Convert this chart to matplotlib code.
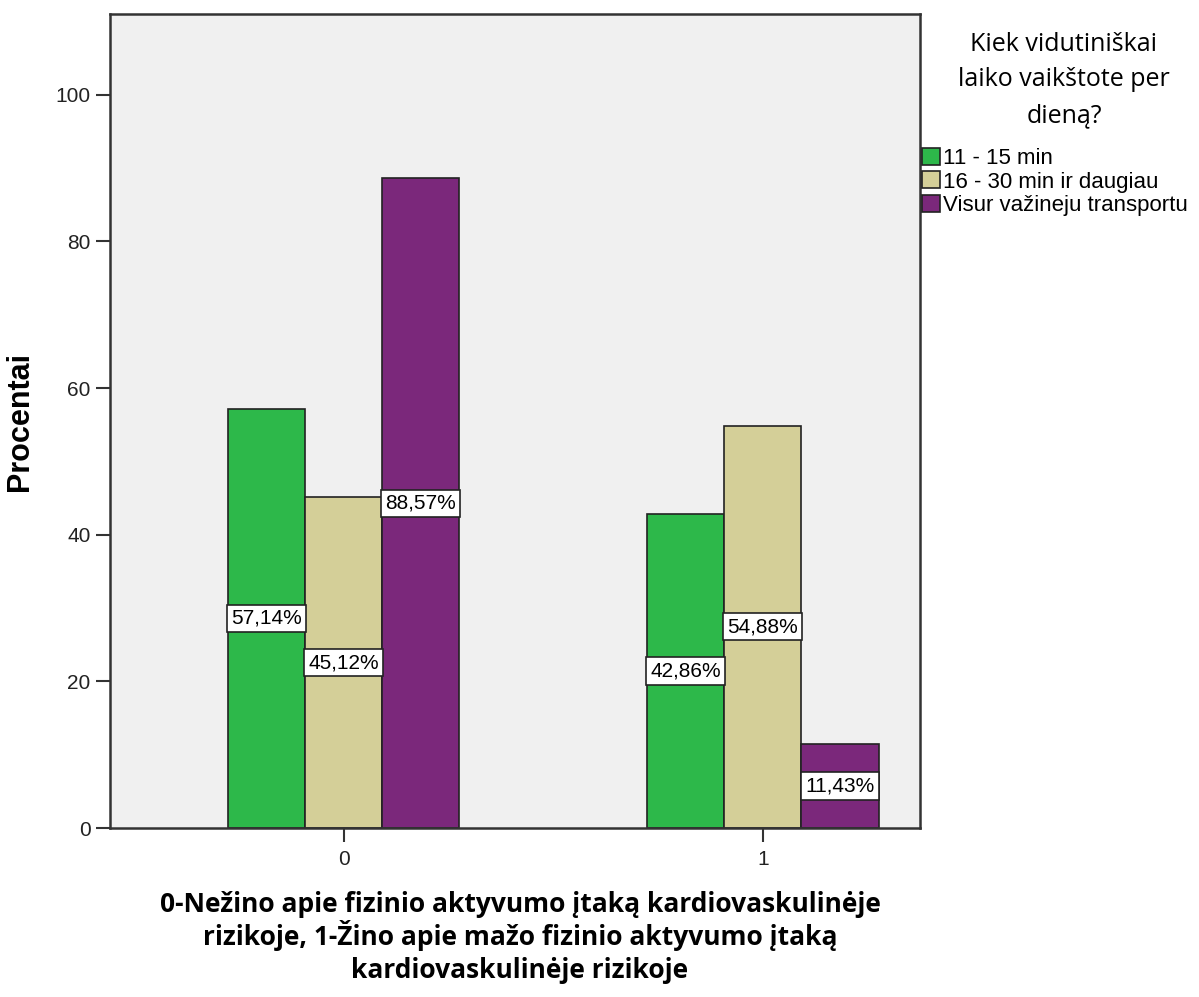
import numpy as np
import matplotlib.pyplot as plt

# Percentages per awareness group (0 / 1) for each walking-time answer
groups = ["0", "1"]
series = ["11 - 15 min", "16 - 30 min ir daugiau", "Visur važineju transportu"]
green_vals = [57.14, 42.86]
tan_vals = [45.12, 54.88]
purple_vals = [88.57, 11.43]
colors = ["#2db84a", "#d4cf98", "#7b287b"]
xlabel_lines = ["0-Nežino apie fizinio aktyvumo įtaką kardiovaskulinėje",
                "rizikoje, 1-Žino apie mažo fizinio aktyvumo įtaką",
                "kardiovaskulinėje rizikoje"]

fig = plt.figure(figsize=(11.99, 9.97), dpi=100)
ax = fig.add_axes([110 / 1199, 1 - 828 / 997, 810 / 1199, 814 / 997])
ax.set_facecolor("#f0f0f0")

x = np.arange(len(groups))
width = 0.184
handles = []
for k, (vals, col) in enumerate(zip([green_vals, tan_vals, purple_vals], colors)):
    pos = x + (k - 1) * width
    bars = ax.bar(pos, vals, width, color=col, edgecolor="#222222", linewidth=1.2,
                  label=series[k], zorder=2)
    handles.append(bars)
    for xp, v in zip(pos, vals):
        ax.text(xp, v / 2, f"{v:.2f}%".replace(".", ","), ha="center", va="center",
                fontsize=15, family="Liberation Sans", zorder=3,
                bbox=dict(boxstyle="square,pad=0.2", fc="white", ec="#222222", lw=1.2))

ax.set_xlim(-0.558, 1.375)
ax.set_ylim(0, 111)
ax.set_xticks(x)
ax.set_xticklabels(groups)
ax.set_yticks([0, 20, 40, 60, 80, 100])
for lab in ax.get_xticklabels() + ax.get_yticklabels():
    lab.set_family("Liberation Sans")
    lab.set_fontsize(15)
    lab.set_color("#222222")
ax.tick_params(axis="y", length=10, width=1.5, color="#333333", pad=4)
ax.tick_params(axis="x", length=10, width=1.5, color="#333333", pad=6)
for sp in ax.spines.values():
    sp.set_color("#333333")
    sp.set_linewidth(1.8)

ax.set_ylabel("Procentai", fontsize=22, fontweight="bold", family="Liberation Sans")
ax.yaxis.set_label_coords(-0.0926, 0.5)

# three-line axis title under the x axis, one text per line for even spacing
for i, line in enumerate(xlabel_lines):
    fig.text(520 / 1199, 1 - (912 + 33 * i) / 997, line, ha="center", va="baseline",
             fontsize=19, fontweight="bold", family="Open Sans")

fig.text(1064 / 1199, 1 - 80 / 997, "Kiek vidutiniškai\nlaiko vaikštote per\ndieną?",
         ha="center", va="center", fontsize=18, family="Open Sans", linespacing=1.55)

leg = fig.legend(handles=handles, labels=series, loc="upper left",
                 bbox_to_anchor=(922 / 1199, 1 - 148 / 997), frameon=False,
                 prop={"family": "Liberation Sans", "size": 16},
                 handlelength=0.8, handleheight=0.8, handletextpad=0.15,
                 labelspacing=0.1, borderaxespad=0, borderpad=0)

fig.savefig("out.png", dpi=100, facecolor="white")
